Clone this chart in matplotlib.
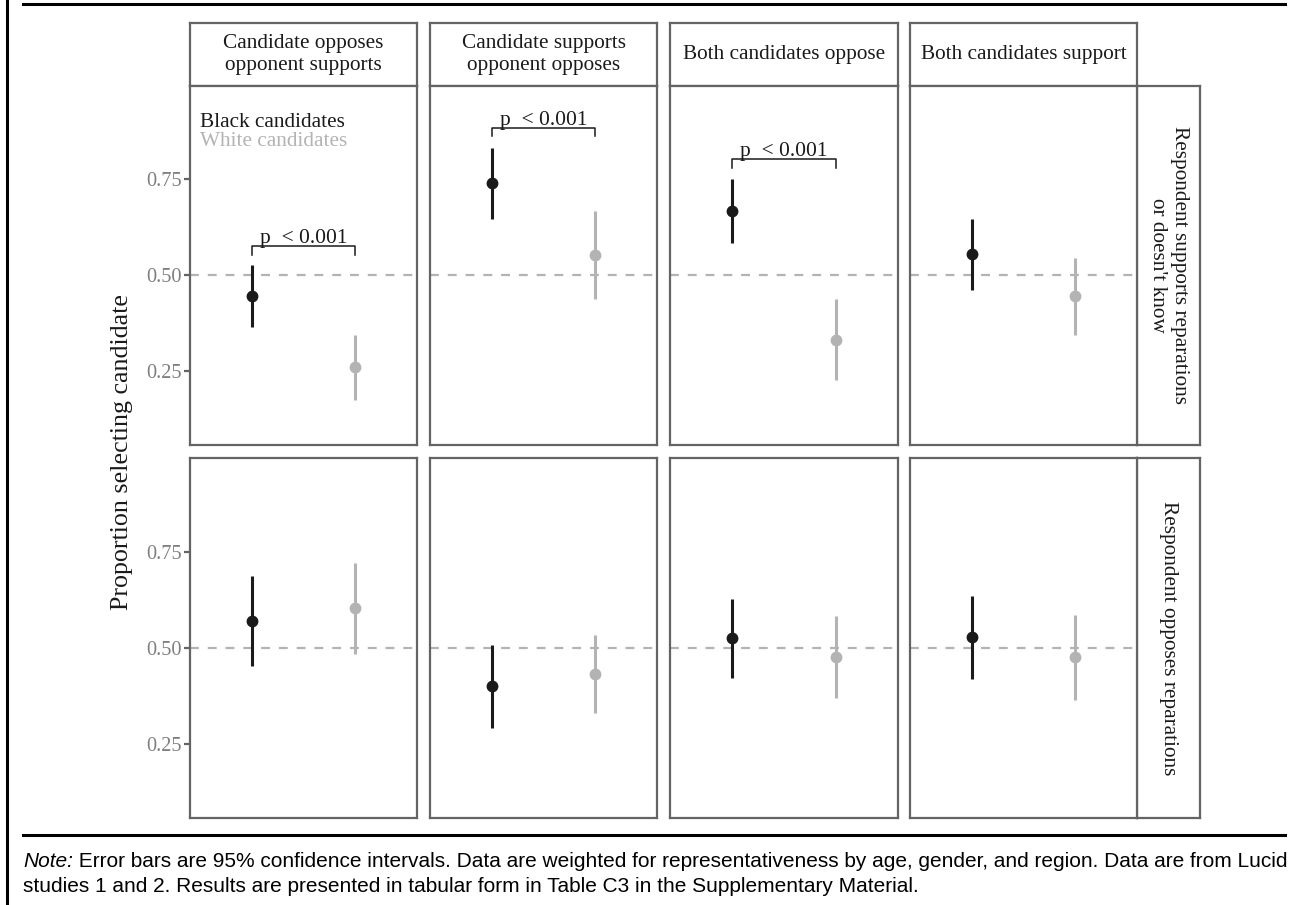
#!/usr/bin/env python3
# Candidate choice by race of candidate, faceted by stance and respondent view

import matplotlib
matplotlib.use("Agg")
import matplotlib.pyplot as plt
from matplotlib.lines import Line2D

# facet labels
conditions = ["Candidate opposes\nopponent supports",
              "Candidate supports\nopponent opposes",
              "Both candidates oppose",
              "Both candidates support"]
respondents = ["Respondent supports reparations\nor doesn't know",
               "Respondent opposes reparations"]
groups = ["Black candidates", "White candidates"]

# estimates and 95% CI (rows = respondent group, cols = condition)
black_est = [[0.446, 0.740, 0.668, 0.555], [0.569, 0.400, 0.525, 0.528]]
black_lo  = [[0.365, 0.647, 0.585, 0.461], [0.453, 0.290, 0.421, 0.420]]
black_hi  = [[0.526, 0.832, 0.750, 0.648], [0.687, 0.507, 0.628, 0.635]]
white_est = [[0.260, 0.554, 0.332, 0.445], [0.603, 0.432, 0.477, 0.475]]
white_lo  = [[0.174, 0.439, 0.227, 0.344], [0.483, 0.330, 0.370, 0.364]]
white_hi  = [[0.345, 0.668, 0.437, 0.546], [0.722, 0.534, 0.584, 0.586]]

# significance brackets, top row only
sig_y = [0.576, 0.885, 0.803, None]
sig_label = "p  < 0.001"

yticks = [0.25, 0.50, 0.75]
ytick_labels = ["0.25", "0.50", "0.75"]

W, H = 1298, 905
BLACK = "#1a1a1a"
GREY = "#b3b3b3"
BORDER = "#646464"
SERIF = ["Liberation Serif", "DejaVu Serif"]
SANS = ["Liberation Sans", "DejaVu Sans"]

plt.rcParams["font.family"] = SERIF

fig = plt.figure(figsize=(W / 100, H / 100), dpi=100)


def px_axes(x0, y0, x1, y1):
    return fig.add_axes([x0 / W, 1 - y1 / H, (x1 - x0) / W, (y1 - y0) / H])


def style_box(ax):
    ax.set_xticks([])
    ax.set_yticks([])
    for s in ax.spines.values():
        s.set_color(BORDER)
        s.set_linewidth(1.6)


cols = [(190, 417), (430, 657), (670, 898), (910, 1137)]
rows = [(86, 445), (458, 818)]

# top strips
for j, (x0, x1) in enumerate(cols):
    sa = px_axes(x0, 23, x1, 86)
    style_box(sa)
    sa.text(0.5, 0.5, conditions[j], ha="center", va="center",
            fontsize=15.3, color=BLACK, linespacing=1.25,
            transform=sa.transAxes)

# right strips
for i, (y0, y1) in enumerate(rows):
    sa = px_axes(1137, y0, 1200, y1)
    style_box(sa)
    sa.text(0.5, 0.5, respondents[i], ha="center", va="center",
            fontsize=15.3, color=BLACK, rotation=-90, linespacing=1.25,
            transform=sa.transAxes)

for i, (y0, y1) in enumerate(rows):
    for j, (x0, x1) in enumerate(cols):
        ax = px_axes(x0, y0, x1, y1)
        style_box(ax)
        ax.set_xlim(0.4, 2.6)
        ax.set_ylim(0.057, 0.994)
        ax.axhline(0.5, color=GREY, lw=1.6, ls=(0, (4, 4)), zorder=1)

        b = black_est[i][j]
        w = white_est[i][j]
        ax.errorbar([1], [b], yerr=[[b - black_lo[i][j]], [black_hi[i][j] - b]],
                    fmt="o", color=BLACK, ms=7.5, elinewidth=2.2, capsize=0,
                    zorder=3)
        ax.errorbar([2], [w], yerr=[[w - white_lo[i][j]], [white_hi[i][j] - w]],
                    fmt="o", color=GREY, ms=7.5, elinewidth=2.2, capsize=0,
                    zorder=3)

        if i == 0 and sig_y[j] is not None:
            yb = sig_y[j]
            ax.plot([1, 1, 2, 2], [yb - 0.022, yb, yb, yb - 0.022],
                    color=BLACK, lw=1.1, zorder=2)
            ax.text(1.5, yb + 0.008, sig_label, ha="center", va="baseline",
                    fontsize=15.5, color=BLACK)

        if i == 0 and j == 0:
            ax.text(0.5, 0.899, groups[0], ha="left", va="center",
                    fontsize=15.3, color=BLACK)
            ax.text(0.5, 0.849, groups[1], ha="left", va="center",
                    fontsize=15.3, color=GREY)

        if j == 0:
            ax.set_yticks(yticks)
            ax.set_yticklabels(ytick_labels)
            ax.tick_params(axis="y", length=4, width=1.6, color=BORDER,
                           labelcolor="#7f7f7f", labelsize=14.7, pad=2)

fig.text(122 / W, 1 - 452 / H, "Proportion selecting candidate",
         rotation=90, ha="center", va="center", fontsize=18.7, color=BLACK)

# frame rules
fig.add_artist(Line2D([7 / W, 7 / W], [0, 1], color="black", lw=2.2,
                      transform=fig.transFigure))
fig.add_artist(Line2D([23 / W, 1285 / W], [1 - 4 / H, 1 - 4 / H],
                      color="black", lw=2.2, transform=fig.transFigure))
fig.add_artist(Line2D([23 / W, 1285 / W], [1 - 835 / H, 1 - 835 / H],
                      color="black", lw=2.2, transform=fig.transFigure))

# note
t1 = fig.text(23 / W, 1 - 867 / H, "Note:", family=SANS, style="italic",
              fontsize=15, va="baseline", color="black")
fig.axes[0].annotate(
    " Error bars are 95% confidence intervals. Data are weighted for "
    "representativeness by age, gender, and region. Data are from Lucid",
    xy=(1, 0), xycoords=t1, va="bottom", ha="left",
    family=SANS, fontsize=15, color="black", annotation_clip=False)
fig.text(23 / W, 1 - 892 / H,
         "studies 1 and 2. Results are presented in tabular form in Table C3 "
         "in the Supplementary Material.",
         family=SANS, fontsize=15, va="baseline", color="black")

fig.savefig("out.png", dpi=100)
